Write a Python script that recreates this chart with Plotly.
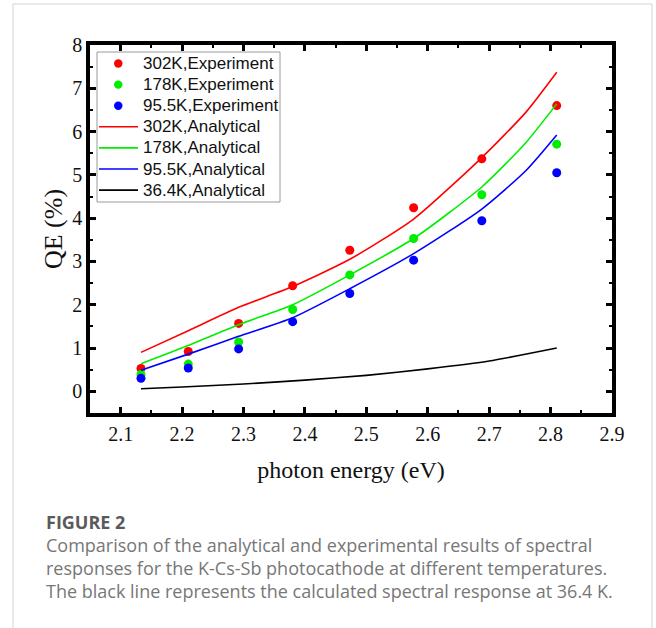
import plotly.graph_objects as go

# Experimental data
exp_x = [2.133, 2.21, 2.292, 2.38, 2.473, 2.577, 2.688, 2.81]
exp_302 = [0.53, 0.92, 1.57, 2.44, 3.26, 4.24, 5.37, 6.60]
exp_178 = [0.39, 0.63, 1.14, 1.89, 2.69, 3.53, 4.54, 5.71]
exp_95 = [0.30, 0.54, 0.98, 1.61, 2.26, 3.03, 3.94, 5.05]

# Analytical curves
ana_x = [2.133, 2.21, 2.292, 2.38, 2.473, 2.577, 2.688, 2.76, 2.81]
ana_302 = [0.90, 1.40, 1.94, 2.42, 3.05, 3.98, 5.40, 6.45, 7.37]
ana_178 = [0.64, 1.06, 1.54, 2.00, 2.69, 3.53, 4.72, 5.75, 6.64]
ana_95 = [0.49, 0.86, 1.27, 1.70, 2.37, 3.18, 4.21, 5.10, 5.92]
black_x = [2.133, 2.2, 2.3, 2.4, 2.5, 2.6, 2.7, 2.81]
ana_36 = [0.06, 0.10, 0.17, 0.26, 0.37, 0.52, 0.70, 1.00]

x_ticks = [2.1, 2.2, 2.3, 2.4, 2.5, 2.6, 2.7, 2.8, 2.9]
y_ticks = [0, 1, 2, 3, 4, 5, 6, 7, 8]

RED, GREEN, BLUE, BLACK = "#ff0000", "#00ee00", "#0000ff", "#000000"

exp_series = [("302K,Experiment", exp_302, RED),
              ("178K,Experiment", exp_178, GREEN),
              ("95.5K,Experiment", exp_95, BLUE)]
ana_series = [("302K,Analytical", ana_x, ana_302, RED),
              ("178K,Analytical", ana_x, ana_178, GREEN),
              ("95.5K,Analytical", ana_x, ana_95, BLUE),
              ("36.4K,Analytical", black_x, ana_36, BLACK)]

fig = go.Figure()
for name, ys, c in exp_series:
    fig.add_trace(go.Scatter(x=exp_x, y=ys, mode="markers", name=name,
                             marker=dict(color=c, size=9)))
for name, xs, ys, c in ana_series:
    fig.add_trace(go.Scatter(x=xs, y=ys, mode="lines", name=name,
                             line=dict(color=c, width=1.6, shape="spline", smoothing=0.6)))

W, H = 656, 628
L, R, T, B = 90, 612, 45, 413
def px(x): return (x - L) / (R - L)
def py(y): return (B - y) / (B - T)

serif = "Liberation Serif"
axis_common = dict(showline=True, linecolor="black", linewidth=3.5, mirror="ticks",
                   ticks="inside", ticklen=6, tickwidth=2.5, tickcolor="black",
                   showgrid=False, zeroline=False)

fig.update_layout(
    width=W, height=H, autosize=False,
    margin=dict(l=L, r=W - R, t=T, b=H - B),
    paper_bgcolor="white", plot_bgcolor="white",
    showlegend=False,
    font=dict(family=serif, color="#111"),
)
fig.update_xaxes(range=[2.05, 2.9], tickvals=x_ticks, ticktext=[f"{v:.1f}" for v in x_ticks],
                 tickfont=dict(family=serif, size=20, color="#111"),
                 title=dict(text="photon energy (eV)", font=dict(family=serif, size=24, color="#111"), standoff=18),
                 minor=dict(ticks="inside", ticklen=3, tickwidth=2, tickcolor="black",
                            dtick=0.05, tick0=2.05, showgrid=False),
                 **axis_common)
fig.update_yaxes(range=[-0.5, 8], tickvals=y_ticks, ticktext=[str(v) for v in y_ticks],
                 tickfont=dict(family=serif, size=20, color="#111"),
                 title=dict(text="QE (%)", font=dict(family=serif, size=26, color="#111"), standoff=3),
                 minor=dict(ticks="inside", ticklen=3, tickwidth=2, tickcolor="black",
                            dtick=0.5, tick0=0, showgrid=False),
                 **axis_common)

# legend (drawn manually to match row spacing)
fig.add_shape(type="rect", xref="paper", yref="paper", x0=px(97), x1=px(280), y0=py(202), y1=py(52),
              line=dict(color="#9a9a9a", width=1), fillcolor="white")
row_y = [63.5 + 21.1 * i for i in range(7)]
entries = [(n, c, "marker") for n, _, c in exp_series] + [(n, c, "line") for n, _, _, c in ana_series]
for (name, c, kind), yy in zip(entries, row_y):
    if kind == "marker":
        fig.add_shape(type="circle", xref="paper", yref="paper",
                      x0=px(114), x1=px(122.5), y0=py(yy + 4.2), y1=py(yy - 4.2),
                      line=dict(color=c, width=0), fillcolor=c)
    else:
        fig.add_shape(type="line", xref="paper", yref="paper",
                      x0=px(99), x1=px(138), y0=py(yy), y1=py(yy),
                      line=dict(color=c, width=1.6))
    fig.add_annotation(text=name, xref="paper", yref="paper", x=px(141), y=py(yy),
                       xanchor="left", yanchor="middle", showarrow=False,
                       font=dict(family="Liberation Sans", size=17, color="#111"))

# card border
fig.add_shape(type="rect", xref="paper", yref="paper",
              x0=px(13), x1=px(652), y0=py(660), y1=py(4),
              line=dict(color="#d4d4d4", width=1), fillcolor="rgba(0,0,0,0)", layer="below")

# caption
fig.add_annotation(text="<b>FIGURE 2</b>", xref="paper", yref="paper", x=px(44), y=py(522),
                   xanchor="left", yanchor="middle", showarrow=False,
                   font=dict(family="Open Sans", size=18, color="#5a5a5a"))
cap_lines = ["Comparison of the analytical and experimental results of spectral",
             "responses for the K-Cs-Sb photocathode at different temperatures.",
             "The black line represents the calculated spectral response at 36.4 K."]
for i, t in enumerate(cap_lines):
    fig.add_annotation(text=t, xref="paper", yref="paper", x=px(44), y=py(545 + 23 * i),
                       xanchor="left", yanchor="middle", showarrow=False,
                       font=dict(family="Open Sans", size=18, color="#777777"))

fig.write_html("out.html")
